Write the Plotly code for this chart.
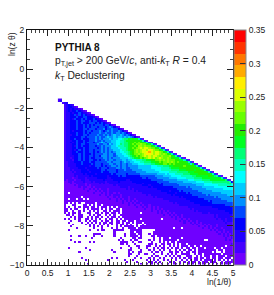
import plotly.graph_objects as go

LEVEL_STEP = 0.0175
LEVEL_COLORS = ["#6f00ff", "#4400ff", "#2200ff", "#0000ff", "#0048ff", "#0090ff", "#00ccff", "#00ffff",
                "#00ffbb", "#00ff77", "#00ff22", "#22ee00", "#66ff00", "#99ff00", "#ddff00", "#ffee00",
                "#ffaa00", "#ff7700", "#ff3300", "#ff0000"]
LEVEL_CHARS = "0123456789abcdefghij"

X_START = 0.775
X_STEP = 0.05
Y_START = -1.55
Y_STEP = -0.1
COLS = 85

TOP_ROWS = ["11", "12", "..122"]
MAIN_ROWS = [
"12321", "1233210", "123232210", "12323343210", "1223233432210", "122334243432210",
"12233343344333210", "1223243343433343210", "122333434433434433210",
"12233343433344434343210", "1223334334343434444344310", "122333433434344434443454310",
"12233343344344434445344544310", "1223233334344344454345454454310",
"122333433434344445445445455454310", "12223343344344445445454565565454310",
"1223333344344445454456556566565654310",
"1223343343" "3344454545" "5565667789" "9aabaa840",
"1222334334" "3344454454" "5556677889" "aabbbbba840",
"1223234334" "3444344565" "4556677889" "9abbcbcbba840",
"1222334344" "3344445445" "5465677989" "9abcbccdccba840",
"1222324343" "3344434454" "5556678889" "9abbcbddcdccba840",
"1222334334" "3344443454" "5456667888" "9abcbcdedeedccba840",
"1222323434" "3344344454" "5455666788" "9abbcdcdeedfedccba840",
"1222334334" "3344343454" "5454566778" "89abcdcdeefgedeedcba840",
"1222333434" "3334344445" "5455466677" "89abccdcdeffedeedcdcba840",
"1222233434" "3344344355" "5455456667" "789abcbcdededeedcdcccdba840",
"1221233434" "3343344445" "5454555666" "6789aabcbcdedecdedccdcbbaa840",
"1222133434" "3344334344" "5455455566" "5667788899" "aabbccdcdc" "dcccbbaa84" "0",
"1122233343" "3343344444" "4554555456" "5566777889" "99aabbcbcc" "dcdcbcbbba" "840",
"1122223343" "3334344434" "4455455455" "4556667778" "8899aabbcc" "bcbcbbbbbb" "a8 40".replace(" ", "a"),
"1122223333" "3323344434" "3445545455" "4555556666" "6677788899" "9aabbbbbcb" "bbba840",
"1112222333" "2333334344" "4344455455" "4455556666" "6677777888" "89aaaabbbb" "bbbbba840",
"1112122233" "3233333344" "3444434445" "4445555566" "6666777888" "889999aaab" "bbbabbba840",
"1111212233" "3323333343" "3344434444" "4444455555" "6666667777" "7888899999" "aaabbbbbba840",
"1111122223" "2333323333" "3334344444" "3444444555" "5555566667" "6777888899" "9aaaabbbbb" "ba840",
"1111121222" "2232333333" "3233334344" "3333333444" "4444555566" "6677777888" "8899aaaaaa" "bba9840",
"1111011222" "1222223333" "3223333333" "3333333344" "3444455555" "5666677778" "8889999aaa" "aaaaaa840",
"1011101122" "1122222223" "2222333333" "2233333333" "3344444455" "5555566666" "7778888999" "9aaaaaaa940",
"0011011112" "1112122222" "1222223222" "2223333333" "3333344444" "4555555566" "6666777788" "8899999999" "83",
"0001001111" "0111111212" "1122222222" "2222233323" "3333334344" "4444455555" "5566666677" "7788888889" "98",
"0000010111" "0101111111" "1111212222" "2222222233" "3233333344" "4444445555" "5555666677" "7777788888" "87",
"0000000101" "1001011111" "1111111222" "2122222222" "2323333333" "3334444445" "4555555666" "6667777777" "77",
"0000000001" "0010101011" "1011111111" "2121222222" "2222233333" "3333344444" "4455555556" "6666666777" "77",
"0000000000" "0100010101" "1011111111" "1111212222" "2222222333" "3233334344" "4444455555" "5566666666" "66",
"00.0000000" "0000100010" "1011010111" "1111111122" "2222222222" "3333233334" "3444444555" "5555556666" "66",
"0000000000" "0000000100" "1010111011" "1111111111" "2122222222" "2232333333" "3344444445" "4555555556" "66",
"00000000.0" "0000000000" "0100101011" "1011111111" "1112122222" "2222223233" "3333344444" "4445455555" "55",
"00.000.00." "0.00000000" "0010010101" "1011011111" "1111111122" "2222222223" "3333333344" "4444445555" "55",
"0000000000" "0000000000" "0000010010" "1010101111" "1111111111" "1222222222" "2333333333" "4344444445" "55",
"00.0.0.0.." "00000.0000" "0000000010" "0101011011" "1111111111" "1112122222" "2223333333" "3344444444" "44",
"0...00...0" "0.0.0.00.0" "0000000000" "0100100101" "1011111111" "1111112222" "2222223333" "3333333344" "44",
"0.0..0.0.0" "00.00.0.00" "0.0.0.0000" "0000010010" "1010101111" "1111111111" "2222222222" "2233333333" "33",
"00.0.00..0" ".0.0000.0." "0.00.00.00" "0000000001" "0010101011" "1111111111" "1212222222" "2222233333" "33",
"00..0..0.0" "..0.0.0..0" "0.0.000.00" "0000000000" "0010010101" "0111111111" "1112122222" "2222222233" "33",
"0.0.00.0.." ".00..00.0." "00.00.0.00" "0000000.00" "0000010100" "1010111111" "1111111222" "1222222222" "33",
".00.0..00." "..0.0.00.." "0.0.0..000" "0000000000" "0000000010" "0101011011" "1111111111" "1112122222" "22",
"...0.0.00." ".0.0.00.0." ".0.00.0.00" "0000000000" "0000000000" "0010101011" "1111111111" "1112122222" "22",
"0.0..0.0.." "00.0.0.0.." "0.00.0.0.0" "0000000.00" "0000000.00" "0000100101" "0111111111" "1111212212" "22",
"...0...0.." "0.0.00..0." "00.0.00.00" ".000.00000" "0000000000" "0000001010" "1011011111" "1111111212" "22",
"..0.....0." ".0.0.0.0.0" "0.00.00.0." "00.0.000.0" "0000000000" "0000000010" "0101010111" "1111111121" "11",
"....0....." "0.0.0..0.0" ".0.0.0.00." "0.0..0..0." "0000000000" "0000000000" "0010100101" "0111011111" "11",
"...0......" "..0.0.0.0." ".0...0.0.0" "0000.0.000" "0000000000" "0000000000" "0000010010" "1011011111" "11",
"......0..." "....0...0." "...0.0..0." ".0000.0000" "0000000000" "000.000.00" "0000000100" "1010110111" "11",
"..0......." "..0...0.00" "....00000." "..000000.." "....000000" "0000000000" "0000000000" "0101011011" "11",
".........." ".........." "....0....." "..00.000.." "...0000000" "0000000000" "0000000000" "0000101010" "11",
".........." "....0000.." "....0....0" "..000.00.." ".0.0000000" "0000000000" "0000000000" "0000010101" "01",
"...0...0.." "0...0...0." "....0....0" "..0000.0.." "..00.00000" "0000000000" "0000000000" "0000000101" "01",
".........." "...0......" ".......0.." "...00.00.." "...0..0.00" "0.00000.00" "0000000000" "0000000010" "01",
"...0......" ".........." "......0.0." "..0.00...." ".0.0..0.00" "00000.0000" "00000000.." "0000000010" "10",
".....0.0.." "..0.0....." ".......000" "0..0..00.." "..0...0.0." "0.00.00000" "0000000000" "0000000000" "00",
".........." ".........." ".......00." "0...0....." ".00.0..00." "00.0.0.00." "0000000000" "0000000000" "01",
".........." ".........." ".........." ".0...00..." "00..0.0.0." ".0.0.0.000" ".00.00.000" "00000000.0" "00",
"..0......." "0........." ".......0.." "..0...0..." "0..0.0.00." "0.0.00.0.0" "0.00.000.0" "000.00.000" "00",
".........." "..0......." "...0......" ".00....0.." ".0.0..0.0." ".0..0.0.0." "00.0.00000" "0000.00.00" "00",
".......0.." ".........." "....0....." ".0.0..00.." "..0.00.0.." ".00.00.0.0" "0.00.00000" "00.0..0.00" "00",
".........." ".........." ".........." ".00...0..0" "0..0...0.." "0.0.0..000" "0..0.00.00" "000000.000" "00",
".........." ".........." ".........." ".0...0...." "..0.00...0" ".0.0.00..0" "00..0.0.00" "0.00.000.0" "00",
"........0." ".........." "...0.5....".replace("5", "0"), "....0..0.." ".0.0..0.0." "..0.0.0.0." "00.00.00.0" "0.00.00.00" "0.",
]
MAIN_ROWS[-2:] = [MAIN_ROWS[-2] + MAIN_ROWS[-1]]
TAIL_ROWS = [
".........." "0........." ".0.......0" "...0......" "0..0.0..0." "0...0..0.0" ".0.00.0.00" "00.0.0.0.0" ".0",
".........." ".........." ".........." "0....0...." ".00.0.0..." ".0.0..0.0." "0.00.0.000" ".000..0.00" "00",
".........." ".0........" ".........." ".......0.." "0.0..0.0.." "0..00.0..." "0.0..0.00." "0.0.0.0.00" "0.",
]

X_TICKS = [0, 0.5, 1, 1.5, 2, 2.5, 3, 3.5, 4, 4.5, 5]
X_TICK_LABELS = ["0", "0.5", "1", "1.5", "2", "2.5", "3", "3.5", "4", "4.5", "5"]
Y_TICKS = [2, 0, -2, -4, -6, -8, -10]
CBAR_TICKS = [0, 0.05, 0.1, 0.15, 0.2, 0.25, 0.3, 0.35]
CBAR_LABELS = ["0", "0.05", "0.1", "0.15", "0.2", "0.25", "0.3", "0.35"]

FONT = "Liberation Sans"


def decode(row):
    return [None if ch == "." else (LEVEL_CHARS.index(ch) + 0.5) * LEVEL_STEP for ch in row]


rows = [r.ljust(COLS, ".") for r in TOP_ROWS]
for r in MAIN_ROWS + TAIL_ROWS:
    rows.append(("..." + r).ljust(COLS, ".")[:COLS])
z = [decode(r) for r in rows]

n = len(LEVEL_COLORS)
scale = []
for i, c in enumerate(LEVEL_COLORS):
    scale.append([i / n, c])
    scale.append([(i + 1) / n, c])

fig = go.Figure(go.Heatmap(
    z=z, x0=X_START, dx=X_STEP, y0=Y_START, dy=Y_STEP,
    zmin=0, zmax=0.35, colorscale=scale, hoverongaps=False,
    colorbar=dict(
        thickness=12, thicknessmode="pixels",
        len=1, lenmode="fraction", y=0, yanchor="bottom", x=1.0, xanchor="left", xpad=1, ypad=0,
        tickvals=CBAR_TICKS, ticktext=CBAR_LABELS, ticks="inside", ticklen=6, tickwidth=1, tickcolor="#333",
        tickfont=dict(family=FONT, size=8.5, color="#222"),
        outlinewidth=1, outlinecolor="#888", borderwidth=0),
))

fig.update_layout(
    width=274, height=295, margin=dict(l=27, r=41, t=30, b=30, autoexpand=False),
    paper_bgcolor="white", plot_bgcolor="white", font=dict(family=FONT, size=8.5, color="#222"),
    xaxis=dict(range=[0, 5], tickvals=X_TICKS, ticktext=X_TICK_LABELS, ticks="inside", ticklen=6, tickwidth=1,
               tickcolor="#222", showgrid=False, zeroline=False, showline=True, linecolor="#111", linewidth=1,
               mirror="allticks", tickangle=0, tickfont=dict(family=FONT, size=8.5, color="#222"),
               minor=dict(ticks="inside", dtick=0.1, ticklen=3, tickwidth=1, tickcolor="#444", showgrid=False)),
    yaxis=dict(range=[-10, 2], tickvals=Y_TICKS, ticks="inside", ticklen=6, tickwidth=1,
               tickcolor="#222", showgrid=False, zeroline=False, showline=True, linecolor="#111", linewidth=1,
               mirror="allticks", tickfont=dict(family=FONT, size=8.5, color="#222"),
               minor=dict(ticks="inside", dtick=0.5, ticklen=3, tickwidth=1, tickcolor="#444", showgrid=False)),
    annotations=[
        dict(text="<b>PYTHIA 8</b>", xref="paper", yref="paper", x=26 / 206, y=1 - 17 / 235, xanchor="left", yanchor="middle",
             showarrow=False, font=dict(family=FONT, size=10, color="#111")),
        dict(text="p<sub>T,jet</sub> &gt; 200 GeV/<i>c</i>, anti-<i>k</i><sub>T</sub> <i>R</i> = 0.4", xref="paper", yref="paper",
             x=26 / 206, y=1 - 32 / 235, xanchor="left", yanchor="middle", showarrow=False, font=dict(family=FONT, size=10.3, color="#222")),
        dict(text="<i>k</i><sub>T</sub> Declustering", xref="paper", yref="paper", x=26 / 206, y=1 - 46 / 235,
             xanchor="left", yanchor="middle", showarrow=False, font=dict(family=FONT, size=10.3, color="#222")),
        dict(text="ln(z θ)", xref="paper", yref="paper", x=-15 / 206, y=1, xanchor="center", yanchor="top", textangle=-90,
             showarrow=False, font=dict(family=FONT, size=8.5, color="#222")),
        dict(text="ln(1/θ)", xref="paper", yref="paper", x=1, y=-17 / 235, xanchor="right", yanchor="middle",
             showarrow=False, font=dict(family=FONT, size=8.5, color="#222")),
    ],
)

fig.write_html("out.html", config=dict(displayModeBar=False), post_script="document.body.style.margin='0';")
